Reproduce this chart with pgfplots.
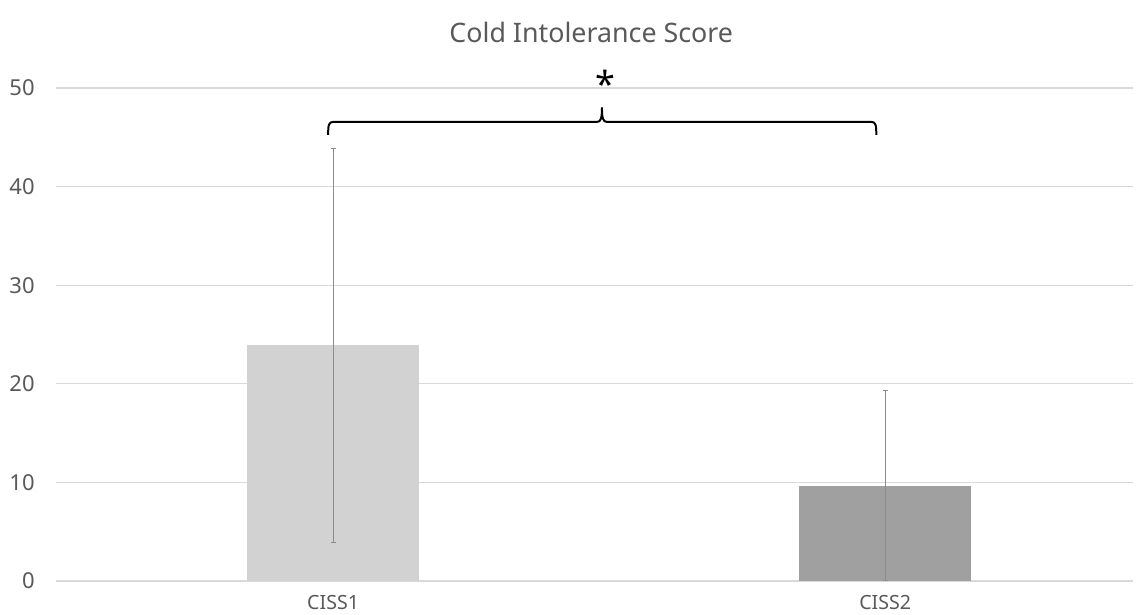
\documentclass[border=0pt]{standalone}
\usepackage{fontspec}
\setmainfont{Noto Sans}
\usepackage{pgfplots}
\usepackage{pgfplotstable}
\pgfplotsset{compat=1.18}
\usetikzlibrary{calc}
\definecolor{txt}{HTML}{595959}
\definecolor{gridc}{HTML}{D9D9D9}
\definecolor{barA}{HTML}{D2D2D2}
\definecolor{barB}{HTML}{A0A0A0}
\definecolor{errc}{HTML}{8C8C8C}

\pgfplotstableread{
x y ep em
0 23.9 20.0 20.0
}\dataA
\pgfplotstableread{
x y ep em
1 9.6 9.7 9.6
}\dataB

\begin{document}
\begin{tikzpicture}
\begin{axis}[
  scale only axis, width=538.5pt, height=246.5pt,
  xmin=-0.502, xmax=1.449, ymin=0, ymax=50,
  ytick={0,10,...,50}, xtick={0,1}, xticklabels={CISS1,CISS2},
  ymajorgrids, grid style={gridc, line width=0.6pt},
  axis line style={draw=none},
  major tick length=0pt,
  tick label style={text=txt},
  yticklabel style={font=\fontsize{11}{13}\selectfont, anchor=east, inner sep=0pt, xshift=-10.5pt},
  xticklabel style={font=\fontsize{9.8}{12}\selectfont, anchor=north, inner sep=0pt, yshift=-7pt},
  /pgf/number format/assume math mode=true,
  clip=false,
  ybar, bar width=86pt, bar shift=0pt,
  error bars/y dir=both, error bars/y explicit,
  error bars/error bar style={errc, line width=0.5pt},
  error bars/error mark options={rotate=90, errc, line width=0.5pt, mark size=1.2pt},
]
\addplot[fill=barA, draw=none] table[x=x, y=y, y error plus=ep, y error minus=em]{\dataA};
\addplot[fill=barB, draw=none] table[x=x, y=y, y error plus=ep, y error minus=em]{\dataB};
\coordinate (bl) at (axis cs:-0.009,45.24);
\coordinate (br) at (axis cs:0.984,45.24);
\coordinate (bm) at (axis cs:0.487,45.24);
\draw[line width=1pt, line join=round, black]
  (bl) .. controls ([yshift=5pt]bl) and ([xshift=0.3pt,yshift=6.5pt]bl) .. ([xshift=2.5pt,yshift=6.5pt]bl)
  -- ([xshift=-2.5pt,yshift=6.5pt]bm)
  .. controls ([xshift=-0.5pt,yshift=6.5pt]bm) and ([yshift=8.5pt]bm) .. ([yshift=13.5pt]bm)
  .. controls ([yshift=8.5pt]bm) and ([xshift=0.5pt,yshift=6.5pt]bm) .. ([xshift=2.5pt,yshift=6.5pt]bm)
  -- ([xshift=-2.5pt,yshift=6.5pt]br)
  .. controls ([xshift=-0.3pt,yshift=6.5pt]br) and ([yshift=5pt]br) .. (br);
\node[anchor=base, font=\bfseries\fontsize{18}{18}\selectfont, inner sep=0pt] at (axis cs:0.493,49.0) {*};
\node[font=\fontsize{13.4}{15}\selectfont, text=txt, inner sep=0pt, yshift=27.75pt] at (rel axis cs:0.497,1) {Cold Intolerance Score};
\end{axis}
\pgfresetboundingbox
\path[use as bounding box] ($(current axis.south west)+(-28pt,-17pt)$) rectangle ($(current axis.north east)+(4pt,44pt)$);
\end{tikzpicture}
\end{document}
